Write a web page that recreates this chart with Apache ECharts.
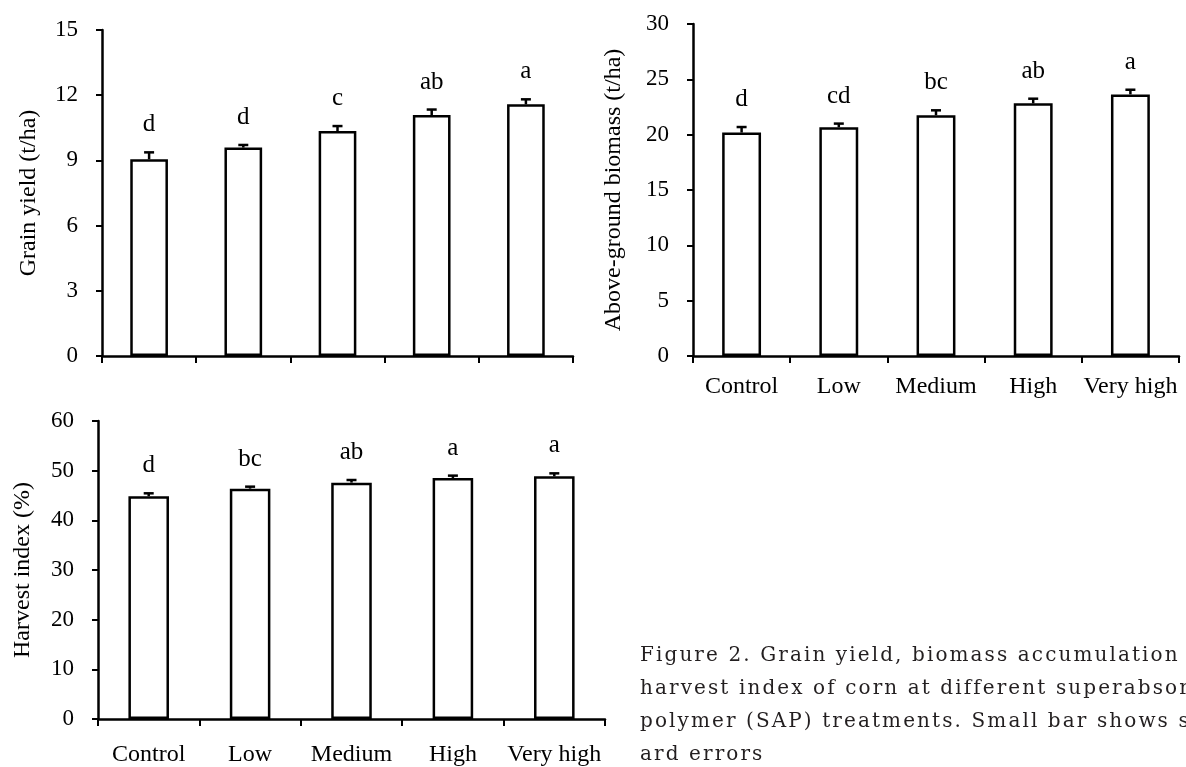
<!DOCTYPE html>
<html>
<head>
<meta charset="utf-8">
<script src="https://cdn.jsdelivr.net/npm/echarts@6/dist/echarts.min.js"></script>
<style>
  html, body { margin: 0; padding: 0; background: #fff; }
  #wrap { position: relative; width: 1186px; height: 767px; overflow: hidden; }
  #chart { position: absolute; left: 0; top: 0; width: 1186px; height: 767px; }
  #caption {
    position: absolute; left: 640px; top: 638px; width: 700px;
    font-family: 'DejaVu Serif', serif; font-size: 20px; line-height: 33px;
    letter-spacing: 2.1px; color: #231f20; white-space: pre;
  }
</style>
</head>
<body>
<div id="wrap">
  <div id="chart"></div>
  <div id="caption">Figure 2. Grain yield, biomass accumulation and
harvest index of corn at different superabsorbent
polymer (SAP) treatments. Small bar shows stand-
ard errors</div>
</div>
<script>
const categories = ['Control', 'Low', 'Medium', 'High', 'Very high']

const grainYield = [9.05, 9.59, 10.35, 11.09, 11.58]
const grainYieldSE = [0.32, 0.12, 0.23, 0.25, 0.23]
const grainYieldLetters = ['d', 'd', 'c', 'ab', 'a']

const biomass = [20.19, 20.67, 21.75, 22.83, 23.64]
const biomassSE = [0.5, 0.33, 0.45, 0.42, 0.42]
const biomassLetters = ['d', 'cd', 'bc', 'ab', 'a']

const harvestIndex = [44.84, 46.38, 47.59, 48.53, 48.86]
const harvestIndexSE = [0.6, 0.4, 0.53, 0.47, 0.6]
const harvestIndexLetters = ['d', 'bc', 'ab', 'a', 'a']

const font = 'Liberation Serif'

// error bar (up only) + significance letter
const errRender = (params, api) => {
  const i = api.value(0)
  const base = api.coord([i, api.value(1)])
  const top = api.coord([i, api.value(1) + api.value(2)])
  const cap = 5
  return {
    type: 'group',
    children: [
      { type: 'line', shape: { x1: base[0], y1: base[1], x2: top[0], y2: top[1] }, style: { stroke: '#000', lineWidth: 2.5 } },
      { type: 'line', shape: { x1: top[0] - cap, y1: top[1], x2: top[0] + cap, y2: top[1] }, style: { stroke: '#000', lineWidth: 2.5 } },
      {
        type: 'text',
        style: {
          text: api.value(3), x: top[0], y: top[1] - 15,
          align: 'center', verticalAlign: 'bottom',
          fontFamily: font, fontSize: 25, fill: '#000'
        }
      }
    ]
  }
}

const xAxisOf = (idx, showLabel, margin) => ({
  type: 'category', gridIndex: idx, data: categories,
  axisLine: { lineStyle: { color: '#000', width: 2.5 } },
  axisTick: { show: true, interval: 0, length: 7, lineStyle: { color: '#000', width: 2 } },
  axisLabel: { show: showLabel, interval: 0, color: '#000', fontFamily: font, fontSize: 24, margin: margin }
})

const yAxisOf = (idx, max, interval, name, gap) => ({
  type: 'value', gridIndex: idx, min: 0, max: max, interval: interval,
  name: name, nameLocation: 'middle', nameGap: gap,
  nameTextStyle: { color: '#000', fontFamily: font, fontSize: 24 },
  axisLine: { show: true, lineStyle: { color: '#000', width: 2.5 } },
  axisTick: { show: true, length: 6, lineStyle: { color: '#000', width: 2 } },
  splitLine: { show: false },
  axisLabel: { color: '#000', fontFamily: font, fontSize: 23, margin: 24 }
})

const barOf = (idx, values) => ({
  type: 'bar', xAxisIndex: idx, yAxisIndex: idx, data: values,
  barWidth: '40%', animation: false,
  itemStyle: { color: '#fff', borderColor: '#000', borderWidth: 2.5 }
})

const errOf = (idx, values, se, letters) => ({
  type: 'custom', xAxisIndex: idx, yAxisIndex: idx, z: 5, clip: false,
  renderItem: errRender, animation: false,
  data: values.map((v, i) => [i, v, se[i], letters[i]])
})

const options = {
  backgroundColor: '#fff',
  animation: false,
  grid: [
    { left: 102, top: 30, width: 471, height: 326 },
    { left: 693, top: 24, width: 486, height: 332 },
    { left: 98, top: 421, width: 507, height: 298 }
  ],
  xAxis: [xAxisOf(0, false, 20), xAxisOf(1, true, 19), xAxisOf(2, true, 24)],
  yAxis: [
    yAxisOf(0, 15, 3, 'Grain yield (t/ha)', 61),
    yAxisOf(1, 30, 5, 'Above-ground biomass (t/ha)', 67),
    yAxisOf(2, 60, 10, 'Harvest index (%)', 63)
  ],
  series: [
    barOf(0, grainYield), errOf(0, grainYield, grainYieldSE, grainYieldLetters),
    barOf(1, biomass), errOf(1, biomass, biomassSE, biomassLetters),
    barOf(2, harvestIndex), errOf(2, harvestIndex, harvestIndexSE, harvestIndexLetters)
  ]
}

const mychart = echarts.init(document.getElementById('chart'))
mychart.setOption(options)
</script>
</body>
</html>
